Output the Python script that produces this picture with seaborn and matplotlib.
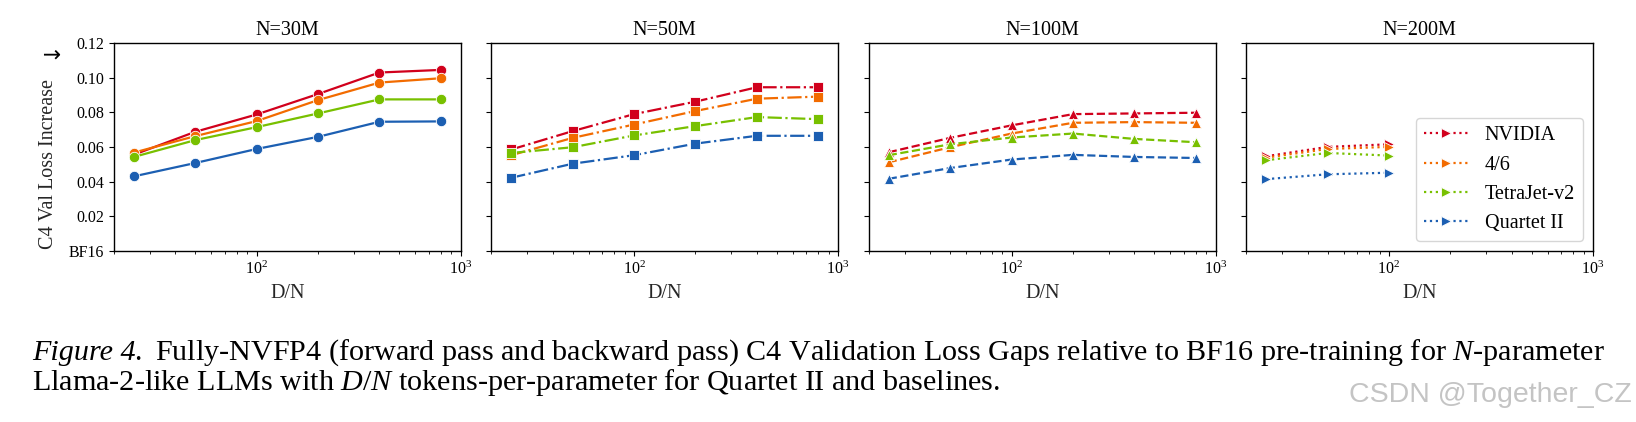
import numpy as np
import pandas as pd
import seaborn as sns
from matplotlib import pyplot as plt

# tokens-per-parameter
dn_full = [25, 50, 100, 200, 400, 800]
dn_200m = [25, 50, 100]

methods = ["NVIDIA", "4/6", "TetraJet-v2", "Quartet II"]
colors = ["#d1001c", "#f26b00", "#78c000", "#1c5fb2"]

# loss gap vs BF16, one list per method
n30_nvidia = [0.0556, 0.0688, 0.0788, 0.0906, 0.1030, 0.1045]
n30_46 = [0.0568, 0.0663, 0.0750, 0.0871, 0.0972, 0.0997]
n30_tetra = [0.0543, 0.0640, 0.0715, 0.0794, 0.0875, 0.0875]
n30_quartet = [0.0431, 0.0508, 0.0589, 0.0659, 0.0746, 0.0748]

n50_nvidia = [0.0586, 0.0692, 0.0790, 0.0862, 0.0945, 0.0945]
n50_46 = [0.0553, 0.0653, 0.0730, 0.0808, 0.0879, 0.0891]
n50_tetra = [0.0566, 0.0599, 0.0667, 0.0721, 0.0773, 0.0761]
n50_quartet = [0.0423, 0.0504, 0.0553, 0.0620, 0.0665, 0.0665]

n100_nvidia = [0.0570, 0.0653, 0.0725, 0.0790, 0.0794, 0.0798]
n100_46 = [0.0512, 0.0599, 0.0678, 0.0740, 0.0744, 0.0740]
n100_tetra = [0.0553, 0.0616, 0.0655, 0.0678, 0.0647, 0.0628]
n100_quartet = [0.0417, 0.0479, 0.0528, 0.0555, 0.0543, 0.0537]

n200_nvidia = [0.0547, 0.0601, 0.0616]
n200_46 = [0.0539, 0.0589, 0.0601]
n200_tetra = [0.0524, 0.0566, 0.0551]
n200_quartet = [0.0415, 0.0443, 0.0452]

panels = [
    ("N=30M", dn_full, [n30_nvidia, n30_46, n30_tetra, n30_quartet], "-", "o"),
    ("N=50M", dn_full, [n50_nvidia, n50_46, n50_tetra, n50_quartet], "-.", "s"),
    ("N=100M", dn_full, [n100_nvidia, n100_46, n100_tetra, n100_quartet], "--", "^"),
    ("N=200M", dn_200m, [n200_nvidia, n200_46, n200_tetra, n200_quartet], ":", ">"),
]

y_ticks = [0.0, 0.02, 0.04, 0.06, 0.08, 0.10, 0.12]
y_ticklabels = ["BF16", "0.02", "0.04", "0.06", "0.08", "0.10", "0.12"]

sns.set_style("ticks")
plt.rcParams["font.family"] = ["Liberation Serif", "DejaVu Serif"]
plt.rcParams["mathtext.fontset"] = "custom"
plt.rcParams["mathtext.rm"] = "Liberation Serif"
plt.rcParams["mathtext.it"] = "Liberation Serif:italic"
plt.rcParams["axes.edgecolor"] = "black"
plt.rcParams["xtick.color"] = "black"
plt.rcParams["ytick.color"] = "black"
plt.rcParams["text.color"] = "black"

fig, axes = plt.subplots(1, 4, figsize=(16.36, 4.22), dpi=100, sharey=True)
fig.subplots_adjust(left=0.0697, right=0.9737, bottom=0.405, top=0.898, wspace=0.089)

for ax, (title, dn, series, ls, mk) in zip(axes, panels):
    for name, vals, c in zip(methods, series, colors):
        df = pd.DataFrame({"D/N": dn, "gap": vals})
        sns.lineplot(data=df, x="D/N", y="gap", ax=ax, color=c, linestyle=ls,
                     linewidth=1.6, marker=mk, markersize=7.5, markeredgecolor="white",
                     markeredgewidth=0.6, label=name, legend=False)
    ax.set_xscale("log")
    ax.set_xlim(20, 1000)
    ax.set_ylim(0, 0.12)
    ax.set_yticks(y_ticks)
    ax.set_yticklabels(y_ticklabels)
    ax.set_title(title, fontsize=14.5)
    ax.set_xlabel("D/N", fontsize=14.5)
    ax.set_ylabel("")
    ax.tick_params(labelsize=11.5)
    for s in ax.spines.values():
        s.set_visible(True)
        s.set_linewidth(1.0)

axes[0].set_ylabel("C4 Val Loss Increase", fontsize=14.5)
axes[0].yaxis.set_label_coords(-0.162, 0.42)
# the down arrow at the top end of the y label
fig.text(50 / 1636, (422 - 50) / 422, "↓", fontsize=16, family="DejaVu Sans",
         rotation=90, ha="center", va="center")
axes[3].legend(loc="lower right", fontsize=14.5, handlelength=2.2)

# caption, first line starts with italic "Figure 4."
cap_size = 21.7
renderer = fig.canvas.get_renderer()
fig_w = fig.get_window_extent().width
x0 = 32 / 1636
head = fig.text(x0, 62 / 422, "Figure 4.", fontsize=cap_size, style="italic", va="baseline")
head_w = head.get_window_extent(renderer).width / fig_w
fig.text(x0 + head_w + 12 / 1636, 62 / 422,
         r"Fully-NVFP4 (forward pass and backward pass) C4 Validation Loss Gaps relative to BF16 "
         r"pre-training for $N$-parameter",
         fontsize=cap_size, va="baseline")
fig.text(x0, 32 / 422, r"Llama-2-like LLMs with $D/N$ tokens-per-parameter for Quartet II and baselines.",
         fontsize=cap_size, va="baseline")
fig.text(1632 / 1636, 20 / 422, "CSDN @Together_CZ", fontsize=20.5, color="#c4c4c4",
         family="Liberation Sans", ha="right", va="baseline")

plt.savefig("out.png", dpi=100)
plt.close()
